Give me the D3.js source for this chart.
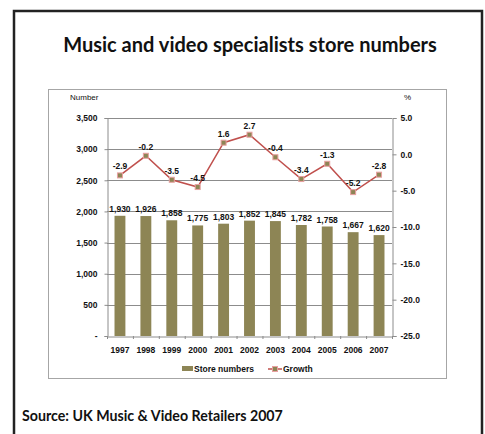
<!DOCTYPE html>
<html><head><meta charset="utf-8">
<script src="https://cdn.jsdelivr.net/npm/d3@7/dist/d3.min.js"></script>
<style>body{margin:0;background:#fff}svg{display:block}</style>
</head><body>
<script>
const years = ["1997","1998","1999","2000","2001","2002","2003","2004","2005","2006","2007"];
const storeNumbers = [1930,1926,1858,1775,1803,1852,1845,1782,1758,1667,1620];
const growth = [-2.9,-0.2,-3.5,-4.5,1.6,2.7,-0.4,-3.4,-1.3,-5.2,-2.8];
const leftTicks = [0,500,1000,1500,2000,2500,3000,3500];
const rightTicks = [5,0,-5,-10,-15,-20,-25];
const title = "Music and video specialists store numbers";
const source = "Source: UK Music & Video Retailers 2007";

const W=485,H=434;
const svg=d3.select("body").append("svg").attr("width",W).attr("height",H);
const barColor="#8D8555", lineColor="#C0504D", tickFont="Liberation Sans, Arial, sans-serif";
const f1=d=>d.toFixed(1);

// outer frame
svg.append("path").attr("d",`M14,${H+5}V11H482V${H+5}`).attr("fill","none").attr("stroke","#222").attr("stroke-width",2.5);

// title
const t=svg.append("text").attr("x",250).attr("y",52).attr("text-anchor","middle")
 .attr("font-family","Lato, 'Open Sans', sans-serif").attr("font-weight","bold").attr("font-size",19).attr("fill","#111").text(title);
const tw=t.node().getComputedTextLength(); t.attr("font-size",19*374/tw);

// chart box
svg.append("rect").attr("x",48.5).attr("y",89.5).attr("width",398).attr("height",289).attr("fill","none").attr("stroke","#A6A6A6").attr("stroke-width",1);

const x0=107,x1=392,yTop=118,yBot=336;
const x=d3.scaleBand().domain(years).range([x0,x1]).paddingInner(0.58).paddingOuter(0.29);
const xb=d3.scaleBand().domain(years).range([x0,x1]);
const yL=d3.scaleLinear().domain([0,3500]).range([yBot,yTop]);
const yR=d3.scaleLinear().domain([-25,5]).range([yBot,yTop]);

// gridlines
svg.append("g").selectAll("line").data(leftTicks.filter(d=>d>0)).join("line")
 .attr("x1",x0).attr("x2",x1).attr("y1",d=>Math.round(yL(d))+0.5).attr("y2",d=>Math.round(yL(d))+0.5)
 .attr("stroke","#8C8C8C").attr("stroke-width",1);

// left axis
const la=svg.append("g").attr("transform",`translate(${x0+0.5},0)`)
 .call(d3.axisLeft(yL).tickValues(leftTicks).tickSize(3).tickPadding(7).tickFormat(d=>d===0?"-":d3.format(",")(d)));
la.select(".domain").attr("stroke","#8C8C8C");
la.selectAll(".tick line").attr("stroke","#8C8C8C");
la.selectAll("text").attr("font-family",tickFont).attr("font-weight","bold").attr("font-size",8.5).attr("fill","#111");

// right axis
const ra=svg.append("g").attr("transform",`translate(${x1+0.5},0)`)
 .call(d3.axisRight(yR).tickValues(rightTicks).tickSize(4).tickPadding(4).tickFormat(f1));
ra.select(".domain").attr("stroke","#8C8C8C");
ra.selectAll(".tick line").attr("stroke","#8C8C8C");
ra.selectAll("text").attr("font-family",tickFont).attr("font-weight","bold").attr("font-size",8.5).attr("fill","#111");

// bars
svg.append("g").selectAll("rect").data(years).join("rect")
 .attr("x",(d)=>x(d)).attr("width",x.bandwidth())
 .attr("y",(d,i)=>yL(storeNumbers[i])).attr("height",(d,i)=>yBot-yL(storeNumbers[i]))
 .attr("fill",barColor);
svg.append("g").selectAll("text").data(years).join("text")
 .attr("x",d=>x(d)+x.bandwidth()/2).attr("y",(d,i)=>yL(storeNumbers[i])-4)
 .attr("text-anchor","middle").attr("font-family",tickFont).attr("font-weight","bold").attr("font-size",8.5).attr("fill","#111")
 .text((d,i)=>d3.format(",")(storeNumbers[i]));

// x axis
const xa=svg.append("g").attr("transform",`translate(0,${yBot+0.5})`)
 .call(d3.axisBottom(xb).tickSize(0).tickPadding(10));
xa.select(".domain").attr("stroke","#8C8C8C");
xa.selectAll("text").attr("font-family",tickFont).attr("font-weight","bold").attr("font-size",8.5).attr("fill","#111");
svg.append("g").selectAll("line").data(years.concat(["end"])).join("line")
 .attr("x1",(d,i)=>x0+i*xb.bandwidth()+0.5).attr("x2",(d,i)=>x0+i*xb.bandwidth()+0.5)
 .attr("y1",yBot).attr("y2",yBot+3).attr("stroke","#8C8C8C");

// growth line
const cx=d=>x(d)+x.bandwidth()/2;
svg.append("path").datum(years).attr("fill","none").attr("stroke",lineColor).attr("stroke-width",1.5)
 .attr("d",d3.line().x(cx).y((d,i)=>yR(growth[i])));
svg.append("g").selectAll("rect").data(years).join("rect")
 .attr("x",d=>cx(d)-2.5).attr("y",(d,i)=>yR(growth[i])-2.5).attr("width",5).attr("height",5)
 .attr("fill",barColor).attr("stroke","#E8A0A0").attr("stroke-width",1);
svg.append("g").selectAll("text").data(years).join("text")
 .attr("x",cx).attr("y",(d,i)=>yR(growth[i])-6)
 .attr("text-anchor","middle").attr("font-family",tickFont).attr("font-weight","bold").attr("font-size",8.5).attr("fill","#111")
 .text((d,i)=>f1(growth[i]));

// axis titles
svg.append("text").attr("x",70).attr("y",100).attr("font-family",tickFont).attr("font-size",8).attr("fill","#111").text("Number");
svg.append("text").attr("x",404).attr("y",100).attr("font-family",tickFont).attr("font-size",8).attr("fill","#111").text("%");

// legend
const lg=svg.append("g").attr("font-family",tickFont).attr("font-weight","bold").attr("font-size",8.5).attr("fill","#111");
lg.append("rect").attr("x",182).attr("y",366).attr("width",11).attr("height",5).attr("fill",barColor);
lg.append("text").attr("x",194).attr("y",372).text("Store numbers");
lg.append("line").attr("x1",268).attr("x2",282).attr("y1",369).attr("y2",369).attr("stroke",lineColor).attr("stroke-width",1.5);
lg.append("rect").attr("x",272.5).attr("y",366.5).attr("width",5).attr("height",5).attr("fill",barColor).attr("stroke","#E8A0A0");
lg.append("text").attr("x",283).attr("y",372).text("Growth");

// source
const s=svg.append("text").attr("x",22).attr("y",421).attr("font-family","Lato, 'Open Sans', sans-serif").attr("font-weight","bold").attr("font-size",13).attr("fill","#111").text(source);
const sw=s.node().getComputedTextLength(); s.attr("font-size",13*261/sw);
</script>
</body></html>
